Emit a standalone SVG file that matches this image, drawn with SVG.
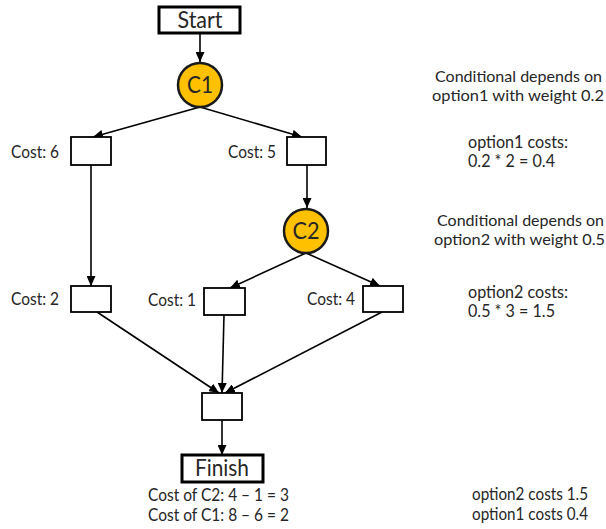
<svg xmlns="http://www.w3.org/2000/svg" width="606" height="529" viewBox="0 0 606 529">
<style>
text{font-family:Lato,"Liberation Sans",sans-serif;fill:#262626;font-size:17.5px}
.big{font-size:23px}
.c{text-anchor:middle}
.n{font-size:16.2px}
.box{fill:#fff;stroke:#000;stroke-width:1.8}
.term{fill:#fff;stroke:#000;stroke-width:3}
.cond{fill:#FFC000;stroke:#1a1a1a;stroke-width:2.5}
.edge{stroke:#000;stroke-width:1.6;fill:none;marker-end:url(#ah)}
</style>
<defs>
<marker id="ah" markerUnits="userSpaceOnUse" markerWidth="10" markerHeight="9" refX="10" refY="4.5" orient="auto">
<path d="M0,0 L10,4.5 L0,9 z" fill="#000"/>
</marker>
</defs>
<g id="connectors">
<line class="edge" x1="200" y1="33" x2="200" y2="62"/>
<line class="edge" x1="200" y1="107" x2="93" y2="137"/>
<line class="edge" x1="200" y1="107" x2="302" y2="137"/>
<line class="edge" x1="91" y1="165" x2="91" y2="286"/>
<line class="edge" x1="307" y1="165" x2="307" y2="208"/>
<line class="edge" x1="306" y1="253" x2="230" y2="288"/>
<line class="edge" x1="306" y1="253" x2="380" y2="286"/>
<line class="edge" x1="97" y1="312" x2="219" y2="393"/>
<line class="edge" x1="224" y1="315" x2="222" y2="393"/>
<line class="edge" x1="382" y1="312" x2="225" y2="393"/>
<line class="edge" x1="222" y1="420" x2="222" y2="455"/>
</g>
<g id="start"><rect class="term" x="159" y="7" width="81" height="26"/><text class="big c" x="200" y="28" textLength="45" lengthAdjust="spacingAndGlyphs">Start</text></g>
<g id="c1"><circle class="cond" cx="200" cy="85" r="22"/><text class="c" style="font-size:24px" x="200" y="93" textLength="26" lengthAdjust="spacingAndGlyphs">C1</text></g>
<g id="cost6"><rect class="box" x="71" y="137" width="40" height="28"/><text x="11" y="158" textLength="48" lengthAdjust="spacingAndGlyphs">Cost: 6</text></g>
<g id="cost5"><rect class="box" x="287" y="137" width="39" height="28"/><text x="228" y="158" textLength="48" lengthAdjust="spacingAndGlyphs">Cost: 5</text></g>
<g id="c2"><circle class="cond" cx="306" cy="231" r="22"/><text class="c" style="font-size:24px" x="306" y="239" textLength="27" lengthAdjust="spacingAndGlyphs">C2</text></g>
<g id="cost2"><rect class="box" x="71" y="286" width="40" height="26"/><text x="11" y="305" textLength="48" lengthAdjust="spacingAndGlyphs">Cost: 2</text></g>
<g id="cost1"><rect class="box" x="204" y="288" width="41" height="27"/><text x="148" y="306" textLength="48" lengthAdjust="spacingAndGlyphs">Cost: 1</text></g>
<g id="cost4"><rect class="box" x="363" y="286" width="40" height="26"/><text x="307" y="305" textLength="48" lengthAdjust="spacingAndGlyphs">Cost: 4</text></g>
<g id="merge"><rect class="box" x="202" y="393" width="40" height="27"/></g>
<g id="finish"><rect class="term" x="182" y="455" width="81" height="27"/><text class="big c" x="222" y="476" textLength="54" lengthAdjust="spacingAndGlyphs">Finish</text></g>
<g id="notes">
<text class="n" x="435" y="82" textLength="167" lengthAdjust="spacingAndGlyphs">Conditional depends on</text>
<text class="n" x="432" y="101" textLength="172" lengthAdjust="spacingAndGlyphs">option1 with weight 0.2</text>
<text x="468" y="148" textLength="100" lengthAdjust="spacingAndGlyphs">option1 costs:</text>
<text x="468" y="167" textLength="87" lengthAdjust="spacingAndGlyphs">0.2 * 2 = 0.4</text>
<text class="n" x="437" y="226" textLength="167" lengthAdjust="spacingAndGlyphs">Conditional depends on</text>
<text class="n" x="434" y="245" textLength="171" lengthAdjust="spacingAndGlyphs">option2 with weight 0.5</text>
<text x="468" y="298" textLength="100" lengthAdjust="spacingAndGlyphs">option2 costs:</text>
<text x="468" y="317" textLength="87" lengthAdjust="spacingAndGlyphs">0.5 * 3 = 1.5</text>
<text x="148" y="501" textLength="141" lengthAdjust="spacingAndGlyphs">Cost of C2: 4 – 1 = 3</text>
<text x="148" y="521" textLength="141" lengthAdjust="spacingAndGlyphs">Cost of C1: 8 – 6 = 2</text>
<text x="472" y="500" textLength="116" lengthAdjust="spacingAndGlyphs">option2 costs 1.5</text>
<text x="472" y="520" textLength="116" lengthAdjust="spacingAndGlyphs">option1 costs 0.4</text>
</g>
</svg>
